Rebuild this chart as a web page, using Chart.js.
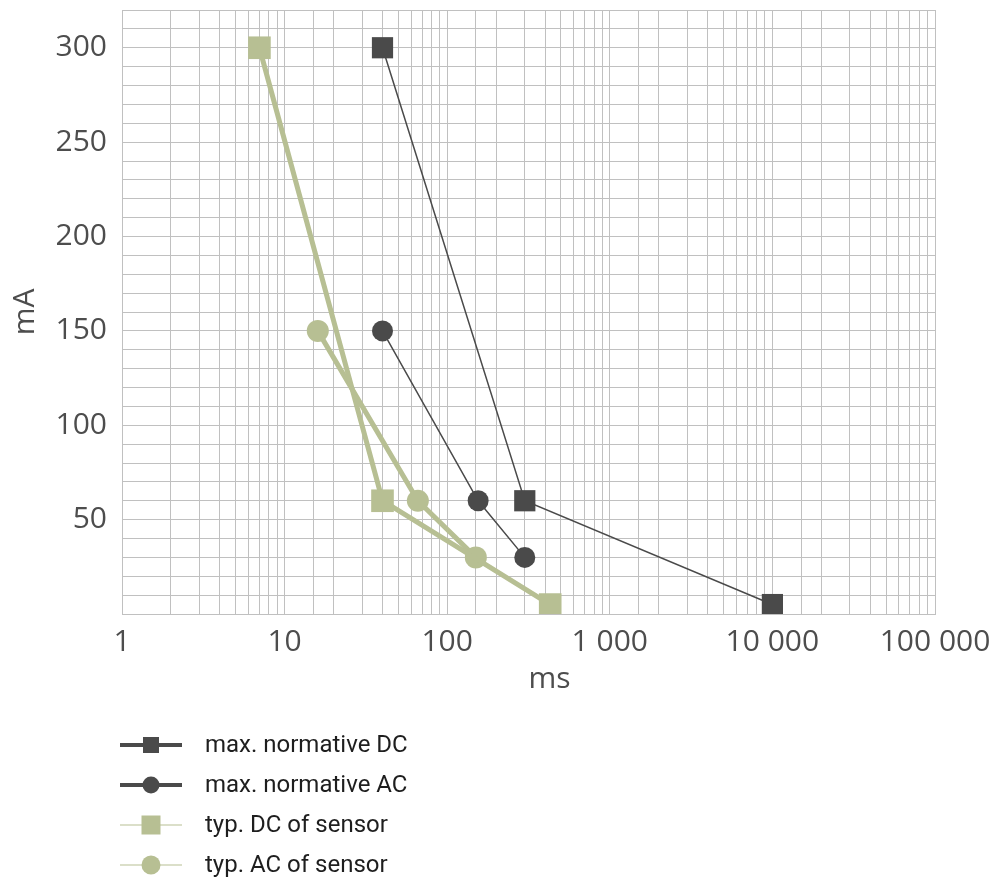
<!DOCTYPE html>
<html>
<head>
<meta charset="utf-8">
<script src="https://cdn.jsdelivr.net/npm/chart.js@4/dist/chart.umd.min.js"></script>
<style>
html, body { margin: 0; padding: 0; background: #fff; }
#wrap { width: 1002px; height: 882px; position: relative; }
</style>
</head>
<body>
<div id="wrap"><canvas id="chart" width="1002" height="882"></canvas></div>
<script>
// time (ms) and current (mA)
const maxDcMs = [40, 300, 10000];
const maxDcMa = [300, 60, 5];
const maxAcMs = [40, 155, 300];
const maxAcMa = [150, 60, 30];
const typDcMs = [7, 40, 430];
const typDcMa = [300, 60, 5];
const typAcMs = [16, 66, 150];
const typAcMa = [150, 60, 30];

const seriesNames = ["max. normative DC", "max. normative AC", "typ. DC of sensor", "typ. AC of sensor"];

const dark = "#4a4a4a";
const green = "#b7bf93";
const tickFont = { family: "'Open Sans', 'DejaVu Sans'", size: 30 };

function pts(xs, ys) {
  return xs.map((x, i) => ({ x: x, y: ys[i] }));
}

function spaced(v) {
  return String(v).replace(/\B(?=(\d{3})+(?!\d))/g, " ");
}

const legendPlugin = {
  id: "sideLegend",
  afterDraw(chart) {
    const ctx = chart.ctx;
    const area = chart.chartArea;
    ctx.save();
    // x axis title
    ctx.fillStyle = "#4d4d4d";
    ctx.font = "30px 'Open Sans'";
    ctx.textAlign = "center";
    ctx.textBaseline = "middle";
    ctx.fillText("ms", (area.left + area.right) / 2 + 21, 679);

    chart.data.datasets.forEach((ds, i) => {
      const y = 745 + i * 40;
      ctx.strokeStyle = ds.borderColor;
      ctx.lineWidth = ds.legendLine;
      ctx.beginPath();
      ctx.moveTo(120, y);
      ctx.lineTo(182, y);
      ctx.stroke();
      ctx.fillStyle = ds.backgroundColor;
      const s = ds.legendMark;
      ctx.beginPath();
      if (ds.pointStyle === "rect") {
        ctx.rect(151 - s / 2, y - s / 2, s, s);
      } else {
        ctx.arc(151, y, s / 2, 0, Math.PI * 2);
      }
      ctx.fill();
      ctx.fillStyle = "#1e1e1e";
      ctx.font = "24px Roboto";
      ctx.textAlign = "left";
      ctx.fillText(ds.label, 205, y + 1);
    });
    ctx.restore();
  }
};

new Chart(document.getElementById("chart"), {
  type: "line",
  data: {
    datasets: [
      {
        label: seriesNames[0],
        data: pts(maxDcMs, maxDcMa),
        borderColor: dark, backgroundColor: dark,
        borderWidth: 1.5, pointStyle: "rect", pointRadius: 15, pointBorderWidth: 0,
        legendLine: 4, legendMark: 16
      },
      {
        label: seriesNames[1],
        data: pts(maxAcMs, maxAcMa),
        borderColor: dark, backgroundColor: dark,
        borderWidth: 1.5, pointStyle: "circle", pointRadius: 10.5, pointBorderWidth: 0,
        legendLine: 4, legendMark: 17
      },
      {
        label: seriesNames[2],
        data: pts(typDcMs, typDcMa),
        borderColor: green, backgroundColor: green,
        borderWidth: 5, pointStyle: "rect", pointRadius: 16, pointBorderWidth: 0,
        legendLine: 1, legendMark: 19
      },
      {
        label: seriesNames[3],
        data: pts(typAcMs, typAcMa),
        borderColor: green, backgroundColor: green,
        borderWidth: 5, pointStyle: "circle", pointRadius: 11, pointBorderWidth: 0,
        legendLine: 1, legendMark: 19
      }
    ]
  },
  options: {
    responsive: false,
    animation: false,
    layout: { autoPadding: false, padding: { left: 0, right: 67, top: 10, bottom: 182 } },
    plugins: {
      legend: { display: false },
      tooltip: { enabled: false }
    },
    scales: {
      x: {
        type: "logarithmic",
        min: 1,
        max: 100000,
        grid: { color: "#c0c0c0", lineWidth: 1, drawTicks: false },
        border: { color: "#c0c0c0" },
        ticks: {
          autoSkip: false,
          maxRotation: 0,
          padding: 10,
          color: "#4d4d4d",
          font: tickFont,
          callback: function (v) {
            const l = Math.log10(v);
            return Math.abs(l - Math.round(l)) < 1e-9 ? spaced(v) : "";
          }
        },
        afterFit: function (scale) {
          scale.height = 86;
          scale.paddingLeft = 0;
          scale.paddingRight = 0;
        }
      },
      y: {
        min: 0,
        max: 320,
        grid: { color: "#c0c0c0", lineWidth: 1, drawTicks: false },
        border: { color: "#c0c0c0" },
        ticks: {
          stepSize: 10,
          autoSkip: false,
          padding: 15,
          color: "#4d4d4d",
          font: tickFont,
          callback: function (v) { return v > 0 && v % 50 === 0 ? String(v) : ""; }
        },
        title: {
          display: true,
          text: "mA",
          color: "#4d4d4d",
          font: tickFont,
          padding: { top: 7, bottom: 0 }
        },
        afterFit: function (scale) {
          scale.width = 122;
          scale.paddingTop = 0;
          scale.paddingBottom = 0;
        }
      }
    }
  },
  plugins: [legendPlugin]
});
</script>
</body>
</html>
